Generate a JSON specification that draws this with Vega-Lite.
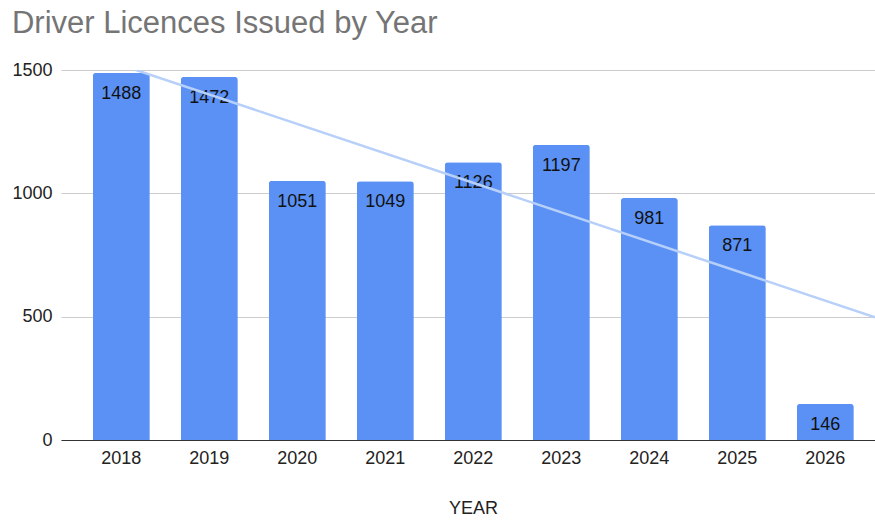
{
  "$schema": "https://vega.github.io/schema/vega-lite/v6.json",
  "width": 814,
  "height": 370,
  "autosize": {"type": "none"},
  "padding": {"left": 61, "top": 70, "right": 0, "bottom": 80},
  "background": "white",
  "title": {
    "text": "Driver Licences Issued by Year",
    "anchor": "start",
    "frame": "bounds",
    "font": "Liberation Sans",
    "fontSize": 31,
    "fontWeight": "normal",
    "color": "#757575",
    "baseline": "alphabetic",
    "offset": -3
  },
  "config": {
    "view": {"stroke": null},
    "font": "Liberation Sans",
    "axis": {"labelFont": "Liberation Sans", "titleFont": "Liberation Sans", "labelFontSize": 18, "titleFontSize": 18, "labelColor": "#222222", "titleColor": "#222222", "titleFontWeight": "normal"}
  },
  "data": {
    "values": [
      {"year": 2018, "count": 1488},
      {"year": 2019, "count": 1472},
      {"year": 2020, "count": 1051},
      {"year": 2021, "count": 1049},
      {"year": 2022, "count": 1126},
      {"year": 2023, "count": 1197},
      {"year": 2024, "count": 981},
      {"year": 2025, "count": 871},
      {"year": 2026, "count": 146}
    ]
  },
  "layer": [
    {
      "layer": [
        {
          "mark": {"type": "bar", "color": "#5b91f5", "cornerRadiusTopLeft": 3, "cornerRadiusTopRight": 3},
          "encoding": {
            "x": {
              "field": "year", "type": "ordinal", "title": "YEAR",
              "scale": {"paddingInner": 0.352, "paddingOuter": 0.301, "align": 0.6},
              "axis": {"labelAngle": 0, "ticks": false, "labelPadding": 9, "domainColor": "#333333", "domainWidth": 1, "titlePadding": 32, "titleX": 412, "grid": false}
            },
            "y": {
              "field": "count", "type": "quantitative", "title": null,
              "scale": {"domain": [0, 1500], "nice": false},
              "axis": {"values": [0, 500, 1000, 1500], "format": "d", "ticks": false, "domain": false, "labelPadding": 9, "gridColor": "#cccccc", "gridWidth": 1}
            }
          }
        },
        {
          "mark": {"type": "text", "baseline": "top", "dy": 12, "fontSize": 18, "color": "#111111", "font": "Liberation Sans"},
          "encoding": {
            "x": {"field": "year", "type": "ordinal"},
            "y": {"field": "count", "type": "quantitative"},
            "text": {"field": "count", "type": "quantitative", "format": "d"}
          }
        }
      ]
    },
    {
      "transform": [
        {"regression": "count", "on": "year", "extent": [2017.315, 2026.565]}
      ],
      "mark": {"type": "line", "color": "#b7d0f9", "strokeWidth": 2.5, "clip": true},
      "encoding": {
        "x": {"field": "year", "type": "quantitative", "scale": {"domain": [2017.315, 2026.565], "nice": false, "zero": false}, "axis": null},
        "y": {"field": "count", "type": "quantitative"}
      }
    }
  ],
  "resolve": {"scale": {"x": "independent"}}
}
